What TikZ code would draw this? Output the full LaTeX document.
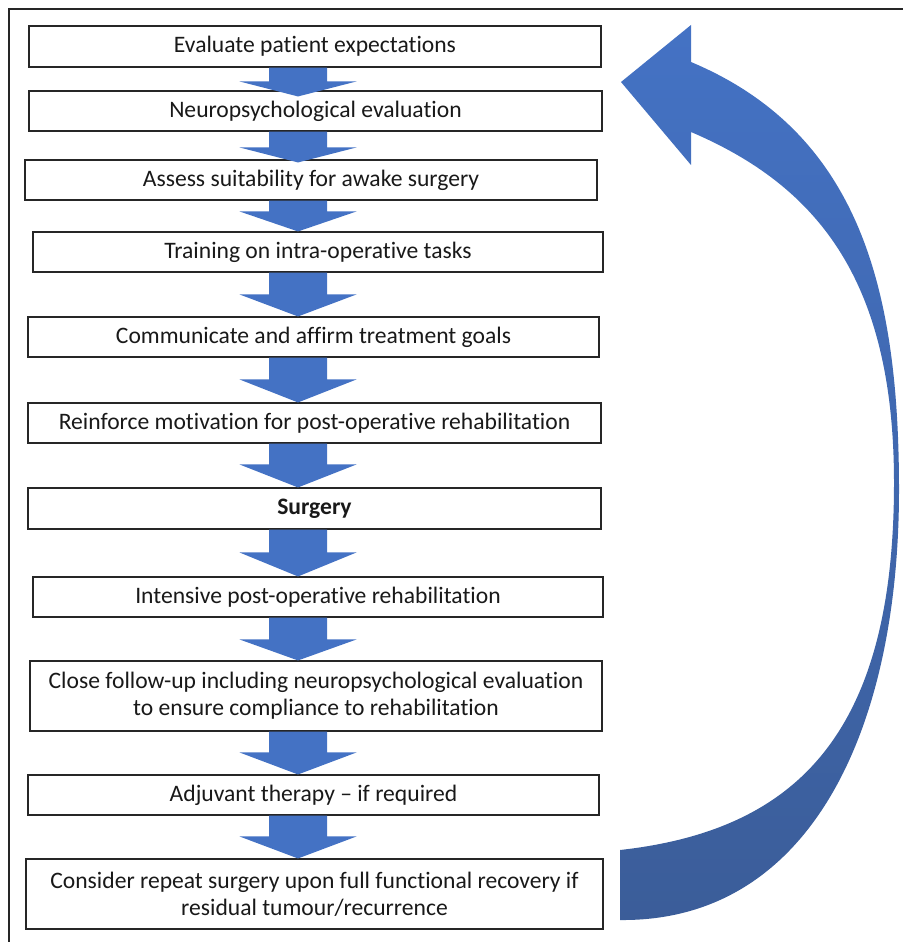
\documentclass[tikz,border=0pt]{standalone}
\usepackage{fontspec}
\setmainfont{Carlito}[Ligatures=NoCommon]
\usetikzlibrary{calc}
\definecolor{arrowblue}{HTML}{4472C4}
\definecolor{arrowdark}{HTML}{3B5D99}
\begin{document}
\begin{tikzpicture}[x=1pt,y=-1pt,
  box/.style={draw=black!85, line width=1.1pt, fill=white, inner sep=0pt, align=center,
    font=\fontsize{23.6}{27}\selectfont, text=black!90},
  blockarrow/.style={fill=arrowblue},
  frameline/.style={draw=black!85, line width=1.2pt}]
\useasboundingbox (0,0) rectangle (903,942);
\coordinate (ax) at (298,0);
\newcommand\flowarrow[4]{%
  \fill[blockarrow] ($(#1.south -| ax)+(-29,0)$) -- ($(#2.north -| ax)+(-29,#3-#4)$)
    -- ($(#2.north -| ax)+(-58.5,#3-#4)$) -- ($(#2.north -| ax)+(0,#3)$)
    -- ($(#2.north -| ax)+(58.5,#3-#4)$) -- ($(#2.north -| ax)+(29,#3-#4)$)
    -- ($(#1.south -| ax)+(29,0)$) -- cycle;}
% frame
\draw[frameline] (9,942) -- (9,9) -- (903,9);
% curved return arrow
\shade[top color=arrowblue, bottom color=arrowdark]
  (621,82) -- (691,25) -- (691,62)
  .. controls (860,133) and (899,290) .. (899,490)
  .. controls (899,730) and (810,922) .. (620,920)
  -- (620,850)
  .. controls (800,830) and (894,730) .. (894,483)
  .. controls (894,283) and (820,187) .. (691,132)
  -- (691,165) -- cycle;
% boxes
\node[box, minimum width=572, minimum height=41] (n1) at (315,46.5) {Evaluate patient expectations};
\node[box, minimum width=573, minimum height=40] (n2) at (315.5,111) {Neuropsychological evaluation};
\node[box, minimum width=572, minimum height=40] (n3) at (311,180) {Assess suitability for awake surgery};
\node[box, minimum width=570, minimum height=40] (n4) at (318,252) {Training on intra-operative tasks};
\node[box, minimum width=571, minimum height=40] (n5) at (313.5,337) {Communicate and affirm treatment goals};
\node[box, minimum width=573, minimum height=40] (n6) at (314.5,423) {Reinforce motivation for post-operative rehabilitation};
\node[box, minimum width=573, minimum height=41] (n7) at (314.5,508.5) {\textbf{Surgery}};
\node[box, minimum width=570, minimum height=40] (n8) at (318,597) {Intensive post-operative rehabilitation};
\node[box, minimum width=572, minimum height=70] (n9) at (316,696) {Close follow-up including neuropsychological evaluation\\to ensure compliance to rehabilitation};
\node[box, minimum width=571, minimum height=40] (n10) at (313.5,795) {Adjuvant therapy -- if required};
\node[box, minimum width=577, minimum height=70] (n11) at (314.5,894) {Consider repeat surgery upon full functional recovery if\\residual tumour/recurrence};
% block arrows
\flowarrow{n1}{n2}{6}{15}
\flowarrow{n2}{n3}{3}{15}
\flowarrow{n3}{n4}{0}{20}
\flowarrow{n4}{n5}{0}{22}
\flowarrow{n5}{n6}{0}{23}
\flowarrow{n6}{n7}{0}{23}
\flowarrow{n7}{n8}{0}{24}
\flowarrow{n8}{n9}{0}{21}
\flowarrow{n9}{n10}{0}{22}
\flowarrow{n10}{n11}{0}{22}
\end{tikzpicture}
\end{document}
